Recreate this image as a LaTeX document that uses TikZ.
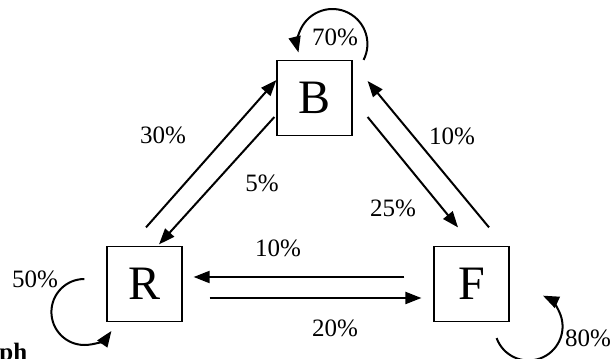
\documentclass[tikz,border=0pt]{standalone}
\usepackage{fontspec}
\setmainfont{Liberation Serif}
\usetikzlibrary{arrows.meta}

\begin{document}
\begin{tikzpicture}[x=0.5pt, y=0.5pt,
    state/.style={draw, line width=0.6pt, minimum size=37.5pt, inner sep=0pt, font=\fontsize{24}{28}\selectfont},
    trans/.style={-{Triangle[length=8pt,width=6pt]}, line width=1pt},
    pct/.style={font=\fontsize{12.5}{15}\selectfont, inner sep=0pt}]
    \useasboundingbox (0,0) rectangle (614,358);

    \node[state] (B) at (314.5,260) {B};
    \node[state] (R) at (144.5,74) {R};
    \node[state] (F) at (471.5,74) {F};

    % --- R <-> B ---
    \draw[trans] ([shift={(1.5,18.5)}]R.north) -- ([shift={(0,18)}]B.west);
    \draw[trans] ([shift={(-2,-19)}]B.west) -- ([shift={(14.5,1.5)}]R.north);
    \node[pct] (pRB) at (163,223) {30\%};
    \node[pct] (pBR) at (262,175) {5\%};

    % --- B <-> F ---
    \draw[trans] ([shift={(15,-19)}]B.east) -- ([shift={(-13.5,18.5)}]F.north);
    \draw[trans] ([shift={(17.5,18.5)}]F.north) -- ([shift={(15,17)}]B.east);
    \node[pct] (pBF) at (393,150) {25\%};
    \node[pct] (pFB) at (452,222) {10\%};

    % --- R <-> F ---
    \draw[trans] ([shift={(-29,7)}]F.west) -- ([shift={(11,7)}]R.east);
    \draw[trans] ([shift={(27,-14)}]R.east) -- ([shift={(-12,-14)}]F.west);
    \node[pct] (pFR) at (278,110) {10\%};
    \node[pct] (pRF) at (335,30) {20\%};

    % --- self loops ---
    \draw[trans] ([shift={(11,0)}]B.north east) arc[start angle=-27, end angle=194, radius=17.5pt];
    \node[pct] (pBB) at (335,321) {70\%};
    \draw[trans] ([shift={(-22,5)}]R.west) arc[start angle=90, end angle=325, radius=16.5pt];
    \node[pct] (pRR) at (35,79) {50\%};
    \draw[trans] ([shift={(-13,-16)}]F.south east) arc[start angle=200, end angle=425, radius=17pt];
    \node[pct] (pFF) at (588,20) {80\%};

    \node[font=\fontsize{12.5}{15}\selectfont\bfseries, inner sep=0pt, anchor=base west] (cap) at (-1,-2.5) {ph};
\end{tikzpicture}
\end{document}
